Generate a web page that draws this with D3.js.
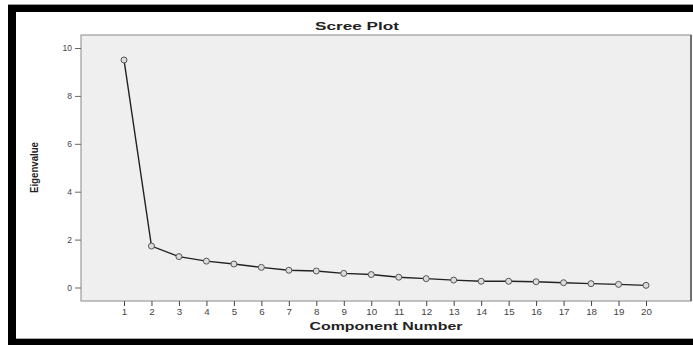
<!DOCTYPE html>
<html><head><meta charset="utf-8">
<script src="https://cdn.jsdelivr.net/npm/d3@7"></script>
<style>body{margin:0;background:#fff;}svg{display:block;}</style>
</head><body>
<script>
const components = [1,2,3,4,5,6,7,8,9,10,11,12,13,14,15,16,17,18,19,20];
const eigenvalues = [9.5,1.73,1.29,1.1,0.98,0.84,0.72,0.69,0.59,0.54,0.43,0.37,0.31,0.26,0.26,0.24,0.2,0.16,0.13,0.09];
const yTicks = [0,2,4,6,8,10];
const title = "Scree Plot";
const xTitle = "Component Number";
const yTitle = "Eigenvalue";

const W = 693, H = 345;
const svg = d3.select("body").append("svg").attr("width", W).attr("height", H);

// outer frame
svg.append("rect").attr("x",0).attr("y",0).attr("width",W).attr("height",H).attr("fill","#fff");
svg.append("rect").attr("x",8).attr("y",4).attr("width",W-8).attr("height",1).attr("fill","#999");
svg.append("rect").attr("x",8).attr("y",5).attr("width",W-8).attr("height",7).attr("fill","#000");
svg.append("rect").attr("x",8).attr("y",5).attr("width",8).attr("height",H-5).attr("fill","#000");
svg.append("rect").attr("x",8).attr("y",339).attr("width",W-8).attr("height",6).attr("fill","#000");
svg.append("rect").attr("x",16).attr("y",338).attr("width",W-16).attr("height",1).attr("fill","#aaa");

const plot = {left:81, top:35, right:691, bottom:301};

const x = d3.scaleLinear().domain([1,20]).range([124,646]);
const y = d3.scaleLinear().domain([0,10]).range([287.5,48]);

svg.append("rect").attr("x",plot.left).attr("y",plot.top)
  .attr("width",plot.right-plot.left).attr("height",plot.bottom-plot.top)
  .attr("fill","#efefef").attr("stroke","#8a8a8a").attr("stroke-width",1);
svg.append("line").attr("x1",plot.right).attr("x2",plot.right).attr("y1",plot.top).attr("y2",plot.bottom)
  .attr("stroke","#555").attr("stroke-width",1.5);

const font = "Liberation Sans, Arial, sans-serif";

// y axis
const yAxis = svg.append("g").attr("transform",`translate(${plot.left},0)`)
  .call(d3.axisLeft(y).tickValues(yTicks).tickSize(6).tickSizeOuter(0).tickPadding(3));
yAxis.select(".domain").remove();
yAxis.selectAll(".tick line").attr("stroke","#666");
yAxis.selectAll(".tick text").attr("fill","#444").style("font-family",font).style("font-size","8.5px");

// x axis
const xAxis = svg.append("g").attr("transform",`translate(0,${plot.bottom})`)
  .call(d3.axisBottom(x).tickValues(components).tickFormat(d3.format("d")).tickSize(5).tickSizeOuter(0).tickPadding(3));
xAxis.select(".domain").remove();
xAxis.selectAll(".tick line").attr("stroke","#444");
xAxis.selectAll(".tick text").attr("fill","#444").style("font-family",font).style("font-size","8.5px")
  .attr("transform","scale(1.15,1)");

// line
const data = components.map((c,i)=>({c, v:eigenvalues[i]}));
svg.append("path").datum(data)
  .attr("fill","none").attr("stroke","#222").attr("stroke-width",1.4)
  .attr("d", d3.line().x(d=>x(d.c)).y(d=>y(d.v)));
svg.selectAll("circle.pt").data(data).enter().append("circle")
  .attr("class","pt").attr("cx",d=>x(d.c)).attr("cy",d=>y(d.v)).attr("r",3)
  .attr("fill","#dcdcdc").attr("stroke","#555").attr("stroke-width",1);

// titles
svg.append("text").attr("x",357).attr("y",30).attr("text-anchor","middle")
  .attr("textLength",84).attr("lengthAdjust","spacingAndGlyphs")
  .style("font-family",font).style("font-weight","bold").style("font-size","11.5px")
  .attr("fill","#222").text(title);
svg.append("text").attr("x",386).attr("y",330).attr("text-anchor","middle")
  .attr("textLength",153).attr("lengthAdjust","spacingAndGlyphs")
  .style("font-family",font).style("font-weight","bold").style("font-size","11px")
  .attr("fill","#222").text(xTitle);
svg.append("text").attr("transform","translate(38,167.5) rotate(-90)").attr("text-anchor","middle")
  .attr("textLength",51).attr("lengthAdjust","spacingAndGlyphs")
  .style("font-family","Liberation Sans Narrow, Liberation Sans, Arial, sans-serif").style("font-weight","bold").style("font-size","10px")
  .attr("fill","#222").text(yTitle);
</script>
</body></html>
